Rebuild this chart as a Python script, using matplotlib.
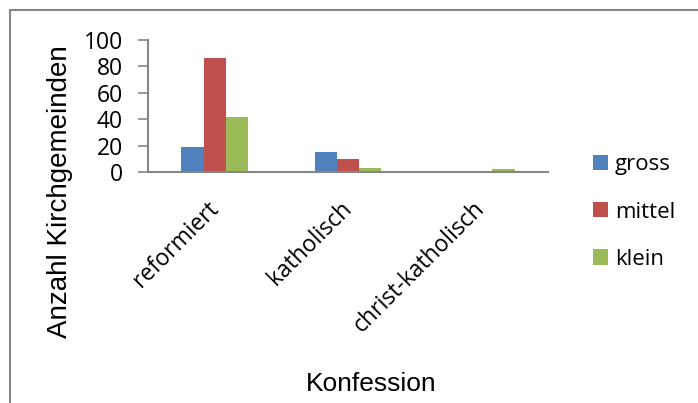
import matplotlib
matplotlib.use('Agg')
import matplotlib.pyplot as plt
from matplotlib.patches import Rectangle
import numpy as np

# Data
categories = ['reformiert', 'katholisch', 'christ-katholisch']
series = ['gross', 'mittel', 'klein']
gross = [19, 15, 0]
mittel = [86, 10, 0]
klein = [42, 3, 2]
colors = ['#4F81BD', '#C0504D', '#9BBB59']
y_ticks = [0, 20, 40, 60, 80, 100]

W, H = 698, 403
fig = plt.figure(figsize=(W / 100, H / 100), dpi=100)
ax = fig.add_axes([148 / W, 1 - 172 / H, 400 / W, 132 / H])

x = np.arange(len(categories))
bw = 1 / 6
for i, (vals, name) in enumerate(zip([gross, mittel, klein], series)):
    ax.bar(x + (i - 1) * bw, vals, width=bw, color=colors[i], label=name, zorder=2)

ax.set_xlim(-0.5, 2.5)
ax.set_ylim(0, 100)
ax.set_yticks(y_ticks)

axis_grey = '#868686'
for s in ['top', 'right']:
    ax.spines[s].set_visible(False)
for s in ['left', 'bottom']:
    ax.spines[s].set_color(axis_grey)
    ax.spines[s].set_linewidth(1.5)
    ax.spines[s].set_zorder(3)

tick_font = 'Open Sans'
ax.tick_params(axis='y', direction='out', length=7.2, width=1.2, color=axis_grey,
               labelsize=16.5, pad=11)
for lbl in ax.get_yticklabels():
    lbl.set_family(tick_font)

ax.set_xticks(x)
ax.set_xticklabels(categories, rotation=45, ha='right', va='center',
                   rotation_mode='anchor', fontsize=16.5, family=tick_font)
ax.tick_params(axis='x', length=0, pad=24)

# axis titles (placed in pixel positions of the chart area)
fig.text(60 / W, 1 - 192 / H, 'Anzahl Kirchgemeinden', rotation=90,
         fontsize=20, family='Liberation Sans', ha='center', va='center')
fig.text(371 / W, 1 - 384 / H, 'Konfession', fontsize=19,
         family='Liberation Sans', ha='center', va='center')

leg = ax.legend(loc='center left', bbox_to_anchor=(582 / W, 1 - 212 / H),
                bbox_transform=fig.transFigure, frameon=False,
                prop={'family': tick_font, 'size': 16}, borderpad=0,
                handlelength=0.68, handleheight=0.68, handletextpad=0.3,
                labelspacing=1.18)

# chart area border
fig.patches.append(Rectangle((10 / W, -0.1), 1.2, 1 - 10 / H + 0.1,
                             transform=fig.transFigure, fill=False,
                             edgecolor=axis_grey, linewidth=1.5))

fig.savefig('out.png', dpi=100, facecolor='white')
